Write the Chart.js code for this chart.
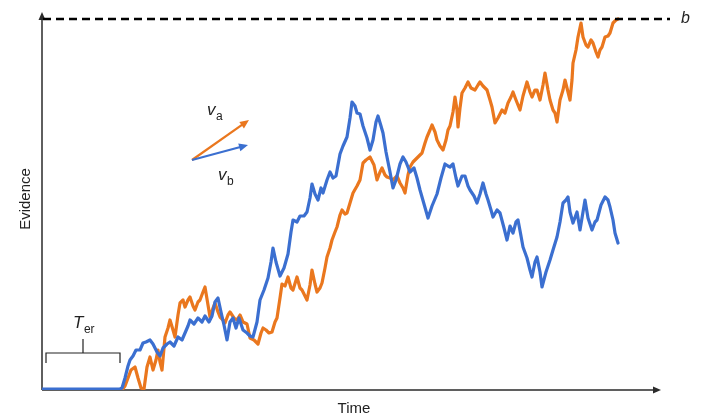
<!DOCTYPE html>
<html>
<head>
<meta charset="utf-8">
<script src="https://cdn.jsdelivr.net/npm/chart.js@4/dist/chart.umd.min.js"></script>
<style>
  html, body { margin: 0; padding: 0; background: #fff; }
  #wrap { width: 703px; height: 416px; }
</style>
</head>
<body>
<div id="wrap"><canvas id="ddm-chart" width="703" height="416"></canvas></div>
<script>
// Two accumulator traces of a race model (time vs. evidence)
const tBlue = [0, 78, 80, 83, 86, 88, 91, 94, 98, 101, 104, 108, 111, 115, 118, 121, 125, 128, 132, 136,
  140, 143, 146, 148, 152, 156, 160, 163, 167, 170, 173, 176, 179, 182, 185, 188, 191, 194, 197, 201,
  205, 208, 211, 215, 218, 222, 226, 229, 231, 234, 238, 242, 246, 249, 251, 255, 258, 262, 265, 268,
  270, 273, 276, 279, 281, 285, 288, 291, 294, 298, 301, 305, 308, 310, 313, 315, 318, 321, 325, 328,
  331, 334, 336, 339, 341, 344, 348, 351, 354, 358, 361, 364, 368, 372, 375, 378, 382, 386, 390, 395,
  399, 403, 406, 408, 411, 414, 416, 420, 423, 426, 428, 432, 435, 438, 441, 444, 446, 449, 451, 455,
  458, 462, 465, 468, 471, 474, 476, 479, 481, 485, 488, 490, 493, 495, 498, 500, 504, 508, 511, 515,
  518, 521, 524, 526, 528, 531, 535, 538, 541, 543, 546, 550, 553, 555, 559, 563, 566, 568, 571, 573, 576];
const eBlue = [1, 1, 2, 12, 24, 30, 34, 40, 40, 47, 48, 50, 46, 38, 34, 42, 46, 48, 44, 53,
  50, 57, 64, 70, 66, 72, 68, 74, 68, 74, 88, 92, 78, 65, 50, 68, 72, 62, 72, 60,
  57, 54, 53, 68, 90, 100, 112, 128, 142, 128, 114, 122, 136, 158, 170, 168, 174, 174, 178, 192,
  206, 196, 190, 202, 197, 210, 218, 212, 214, 236, 244, 253, 272, 288, 284, 277, 276, 264, 252, 240,
  250, 268, 274, 264, 257, 238, 218, 202, 210, 226, 233, 228, 218, 222, 212, 200, 186, 172, 184, 196,
  212, 226, 224, 223, 226, 212, 204, 214, 214, 204, 200, 194, 187, 196, 207, 196, 190, 180, 173, 180,
  177, 162, 150, 164, 157, 168, 170, 154, 143, 132, 120, 113, 128, 133, 118, 103, 118, 130, 140, 153,
  168, 187, 190, 193, 178, 167, 178, 160, 178, 190, 172, 160, 168, 170, 185, 193, 190, 183, 170, 157, 147];

const tOrange = [0, 80, 83, 86, 89, 93, 96, 99, 102, 105, 108, 111, 114, 116, 118, 120, 123, 126, 128, 131,
  133, 136, 138, 141, 143, 146, 148, 151, 153, 156, 158, 161, 163, 166, 168, 171, 173, 176, 178, 181,
  183, 186, 188, 192, 195, 198, 201, 205, 208, 212, 216, 219, 221, 224, 227, 230, 233, 235, 238, 240,
  243, 246, 249, 251, 255, 258, 260, 263, 265, 268, 270, 273, 275, 278, 280, 283, 285, 288, 290, 293,
  295, 298, 300, 303, 305, 308, 311, 315, 318, 321, 324, 328, 332, 335, 338, 340, 343, 345, 348, 351,
  355, 358, 361, 363, 366, 368, 371, 373, 377, 380, 383, 385, 388, 390, 393, 395, 398, 401, 404, 406,
  408, 411, 413, 415, 416, 418, 420, 423, 426, 429, 433, 436, 438, 441, 445, 448, 450, 453, 456, 460,
  463, 466, 469, 471, 474, 478, 481, 485, 488, 490, 493, 495, 498, 501, 503, 506, 508, 511, 513, 515,
  518, 521, 523, 526, 528, 530, 531, 534, 536, 539, 541, 544, 546, 549, 551, 554, 556, 558, 560, 563,
  566, 568, 571, 574, 576];
const eOrange = [0, 0, 4, 12, 20, 23, 12, 2, 1, 23, 33, 20, 30, 40, 28, 20, 53, 62, 70, 60,
  53, 75, 87, 90, 83, 90, 93, 84, 80, 88, 90, 98, 103, 85, 73, 82, 87, 78, 73, 70,
  67, 75, 78, 72, 70, 75, 68, 66, 52, 50, 46, 57, 62, 60, 57, 58, 68, 72, 92, 106,
  104, 113, 102, 100, 113, 102, 100, 94, 90, 105, 120, 106, 98, 102, 107, 122, 133, 142, 150, 158,
  163, 175, 180, 176, 177, 187, 197, 204, 210, 227, 230, 233, 225, 210, 218, 222, 215, 213, 212, 210,
  214, 207, 202, 197, 215, 223, 228, 230, 234, 237, 247, 253, 260, 265, 258, 250, 244, 240, 250, 260,
  264, 278, 293, 280, 263, 282, 297, 302, 308, 302, 300, 305, 308, 304, 300, 290, 283, 267, 272, 280,
  277, 287, 293, 298, 290, 280, 294, 308, 298, 293, 300, 300, 290, 305, 317, 300, 290, 280, 277, 268,
  290, 300, 310, 298, 290, 310, 327, 340, 353, 367, 353, 345, 343, 350, 347, 338, 333, 340, 343, 353,
  354, 357, 367, 370, 371];

// Decision bound and axis extents (same units as the traces)
const bound = 371;
const timeMax = 620;
const evidenceMax = 378;
const nonDecision = [4, 78];     // T_er bracket span
const driftStart = [150, 230];
const driftA = [207, 270];
const driftB = [206, 245];

const BLUE = '#3b6fd0';
const ORANGE = '#ea771e';
const AXIS = '#2b2b2b';
const FONT = "'Liberation Sans', Arial, sans-serif";

function arrowHead(ctx, x1, y1, x2, y2, len, half, color) {
  const a = Math.atan2(y2 - y1, x2 - x1);
  ctx.save();
  ctx.fillStyle = color;
  ctx.beginPath();
  ctx.moveTo(x2, y2);
  ctx.lineTo(x2 - len * Math.cos(a) + half * Math.sin(a), y2 - len * Math.sin(a) - half * Math.cos(a));
  ctx.lineTo(x2 - len * Math.cos(a) - half * Math.sin(a), y2 - len * Math.sin(a) + half * Math.cos(a));
  ctx.closePath();
  ctx.fill();
  ctx.restore();
}

function subLabel(ctx, main, sub, x, y, size) {
  // italic symbol with an upright subscript, x is the left edge
  ctx.font = 'italic ' + size + 'px ' + FONT;
  ctx.textAlign = 'left';
  ctx.textBaseline = 'alphabetic';
  ctx.fillText(main, x, y);
  const w = ctx.measureText(main).width;
  ctx.font = Math.round(size * 0.72) + 'px ' + FONT;
  ctx.fillText(sub, x + w + 0.5, y + size * 0.28);
}

const overlay = {
  id: 'overlay',
  beforeDatasetsDraw(chart) {
    const { ctx, scales: { x, y } } = chart;
    const x0 = x.getPixelForValue(0), y0 = y.getPixelForValue(0);
    const xEnd = x.getPixelForValue(timeMax - 1), yTop = y.getPixelForValue(evidenceMax);
    ctx.save();
    ctx.strokeStyle = AXIS;
    ctx.lineWidth = 1.5;
    ctx.beginPath();
    ctx.moveTo(x0, y0);
    ctx.lineTo(xEnd - 4, y0);
    ctx.moveTo(x0, y0);
    ctx.lineTo(x0, yTop + 4);
    ctx.stroke();
    ctx.restore();
    arrowHead(ctx, x0, y0, xEnd, y0, 8, 3.5, AXIS);
    arrowHead(ctx, x0, y0, x0, yTop, 8, 3.5, AXIS);
  },
  afterDatasetsDraw(chart) {
    const { ctx, scales: { x, y } } = chart;
    ctx.save();

    // decision bound b
    const yb = y.getPixelForValue(bound);
    ctx.strokeStyle = '#000';
    ctx.lineWidth = 2.4;
    ctx.setLineDash([8, 5]);
    ctx.beginPath();
    ctx.moveTo(x.getPixelForValue(1), yb);
    ctx.lineTo(x.getPixelForValue(628), yb);
    ctx.stroke();
    ctx.setLineDash([]);
    ctx.fillStyle = '#222';
    ctx.font = 'italic 16px ' + FONT;
    ctx.textAlign = 'left';
    ctx.textBaseline = 'middle';
    ctx.fillText('b', x.getPixelForValue(639), yb);

    // axis titles
    ctx.font = '15px ' + FONT;
    ctx.textAlign = 'center';
    ctx.textBaseline = 'middle';
    ctx.fillText('Time', x.getPixelForValue(312), 409);
    ctx.save();
    ctx.translate(26, y.getPixelForValue(191));
    ctx.rotate(-Math.PI / 2);
    ctx.fillText('Evidence', 0, 0);
    ctx.restore();

    // non-decision time bracket
    const bl = x.getPixelForValue(nonDecision[0]), br = x.getPixelForValue(nonDecision[1]);
    const bm = (bl + br) / 2;
    const by = y.getPixelForValue(37);
    ctx.strokeStyle = '#222';
    ctx.lineWidth = 1.2;
    ctx.beginPath();
    ctx.moveTo(bl, y.getPixelForValue(27));
    ctx.lineTo(bl, by);
    ctx.lineTo(br, by);
    ctx.lineTo(br, y.getPixelForValue(27));
    ctx.moveTo(bm, by);
    ctx.lineTo(bm, y.getPixelForValue(51));
    ctx.stroke();
    ctx.fillStyle = '#222';
    subLabel(ctx, 'T', 'er', bm - 10, y.getPixelForValue(62), 17);

    // drift-rate vectors
    const sx = x.getPixelForValue(driftStart[0]), sy = y.getPixelForValue(driftStart[1]);
    [[driftA, ORANGE], [driftB, BLUE]].forEach(([end, col]) => {
      const ex = x.getPixelForValue(end[0]), ey = y.getPixelForValue(end[1]);
      const a = Math.atan2(ey - sy, ex - sx);
      ctx.strokeStyle = col;
      ctx.lineWidth = 2.2;
      ctx.beginPath();
      ctx.moveTo(sx, sy);
      ctx.lineTo(ex - 6 * Math.cos(a), ey - 6 * Math.sin(a));
      ctx.stroke();
      arrowHead(ctx, sx, sy, ex, ey, 9, 4, col);
    });
    ctx.fillStyle = '#222';
    subLabel(ctx, 'v', 'a', x.getPixelForValue(165), y.getPixelForValue(275), 17);
    subLabel(ctx, 'v', 'b', x.getPixelForValue(176), y.getPixelForValue(210), 17);

    ctx.restore();
  }
};

const pts = (ts, es) => ts.map((t, i) => ({ x: t, y: es[i] }));

new Chart(document.getElementById('ddm-chart'), {
  type: 'line',
  data: {
    datasets: [
      { label: 'b', data: pts(tBlue, eBlue), borderColor: BLUE, borderWidth: 3.2 },
      { label: 'a', data: pts(tOrange, eOrange), borderColor: ORANGE, borderWidth: 3.2 }
    ]
  },
  options: {
    responsive: false,
    animation: false,
    layout: { padding: { left: 42, right: 41, top: 12, bottom: 26 } },
    elements: { point: { radius: 0 }, line: { tension: 0, borderJoinStyle: 'round', borderCapStyle: 'round' } },
    plugins: { legend: { display: false }, tooltip: { enabled: false } },
    scales: {
      x: { type: 'linear', display: false, min: 0, max: timeMax },
      y: { type: 'linear', display: false, min: 0, max: evidenceMax }
    }
  },
  plugins: [overlay]
});
</script>
</body>
</html>
